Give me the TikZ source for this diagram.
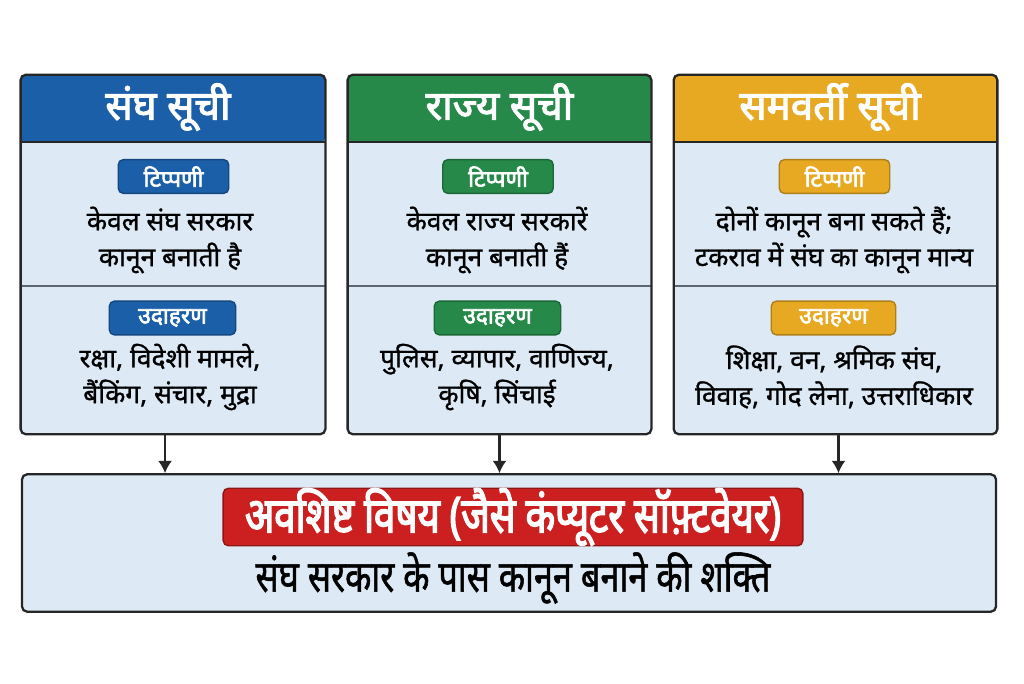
\documentclass[tikz,border=0pt]{standalone}
\usepackage{fontspec}
\usepackage{tikz}
\usetikzlibrary{arrows.meta}

\newfontfamily\deva[Script=Devanagari,FakeBold=1]{Noto Sans}
\newfontfamily\devabold[Script=Devanagari,FakeBold=2.6]{Noto Sans}
\newfontfamily\devacond[Script=Devanagari,FakeStretch=0.78,FakeBold=1.2]{Noto Sans}
\newfontfamily\devacondbold[Script=Devanagari,FakeStretch=0.78,FakeBold=2.8]{Noto Sans}
\def\px{0.5669pt}

\definecolor{unionblue}{HTML}{1C5FA9}
\definecolor{stategreen}{HTML}{26894A}
\definecolor{concuramber}{HTML}{E8A922}
\definecolor{residred}{HTML}{CC1F1F}
\definecolor{bodyfill}{HTML}{DDEAF6}
\definecolor{edge}{HTML}{262626}
\definecolor{divider}{HTML}{5C6570}

\begin{document}
\begin{tikzpicture}
  [x=0.02cm,y=-0.02cm,
   listbox/.style={draw=edge,line width=1.3pt,rounded corners=3pt,fill=bodyfill,
     minimum height=361*\px,inner sep=0pt,
     path picture={
       \fill[#1] (path picture bounding box.north west)
         rectangle ([yshift=-68*\px]path picture bounding box.north east);
       \draw[edge,line width=1.1pt] ([yshift=-68*\px]path picture bounding box.north west)
         -- ([yshift=-68*\px]path picture bounding box.north east);
       \draw[divider,line width=0.9pt] ([yshift=-212*\px]path picture bounding box.north west)
         -- ([yshift=-212*\px]path picture bounding box.north east);}},
   title/.style={text=white,font=\devabold\fontsize{23}{26}\selectfont},
   badge/.style={fill=#1,draw=#1!75!black,line width=0.8pt,rounded corners=3pt,
     text=white,font=\devabold\fontsize{13}{15}\selectfont,
     minimum height=34*\px,inner sep=0pt},
   body/.style={align=center,text=black,font=\deva\fontsize{15}{20.4}\selectfont},
   arrowline/.style={edge,line width=1.2pt,-{Latex[length=7pt,width=8pt]}}]
  \useasboundingbox (0,0) rectangle (1024,683);

  % the three lists
  \node[listbox=unionblue,minimum width=306*\px] (union) at (173,254.5) {};
  \node[listbox=stategreen,minimum width=305*\px] (state) at (499.5,254.5) {};
  \node[listbox=concuramber,minimum width=325*\px] (concur) at (835.5,254.5) {};

  \node[title] (uniontitle) at (168,107) {संघ सूची};
  \node[title] (statetitle) at (499.5,107) {राज्य सूची};
  \node[title] (concurtitle) at (830,107) {समवर्ती सूची};

  \node[badge=unionblue,minimum width=111*\px] (unionnote) at (173.5,176.5) {टिप्पणी};
  \node[badge=stategreen,minimum width=111*\px] (statenote) at (498,176.5) {टिप्पणी};
  \node[badge=concuramber,minimum width=111*\px] (concurnote) at (834.5,176.5) {टिप्पणी};

  \node[body] (uniontext) at (170,240) {केवल संघ सरकार\\ कानून बनाती है};
  \node[body] (statetext) at (497,240) {केवल राज्य सरकारें\\ कानून बनाती हैं};
  \node[body] (concurtext) at (834,240) {दोनों कानून बना सकते हैं;\\ टकराव में संघ का कानून मान्य};

  \node[badge=unionblue,minimum width=127*\px] (unionex) at (172.5,318) {उदाहरण};
  \node[badge=stategreen,minimum width=127*\px] (stateex) at (497.5,318) {उदाहरण};
  \node[badge=concuramber,minimum width=125*\px] (concurex) at (833.5,318) {उदाहरण};

  \node[body] (unionlist) at (170,377) {रक्षा, विदेशी मामले,\\ बैंकिंग, संचार, मुद्रा};
  \node[body] (statelist) at (497,377) {पुलिस, व्यापार, वाणिज्य,\\ कृषि, सिंचाई};
  \node[body] (concurlist) at (834,377) {शिक्षा, वन, श्रमिक संघ,\\ विवाह, गोद लेना, उत्तराधिकार};

  % residuary subjects
  \node[draw=edge,line width=1.3pt,rounded corners=3pt,fill=bodyfill,
    minimum width=978*\px,minimum height=138*\px,inner sep=0pt] (resid) at (509,543) {};
  \node[fill=residred,draw=residred!70!black,line width=0.8pt,rounded corners=3pt,
    minimum width=582*\px,minimum height=57*\px,inner sep=0pt,text=white,
    font=\devacondbold\fontsize{28}{30}\selectfont] (residtitle) at (513,517)
    {अवशिष्ट विषय (जैसे कंप्यूटर सॉफ़्टवेयर)};
  \node[text=black,font=\devacond\fontsize{25}{28}\selectfont] (residtext) at (513,578)
    {संघ सरकार के पास कानून बनाने की शक्ति};

  \foreach \from/\dx in {union/-8,state/0,concur/3}
    \draw[arrowline] ([xshift=\dx*\px]\from.south) -- ([xshift=\dx*\px]\from.south |- resid.north);

\end{tikzpicture}
\end{document}
